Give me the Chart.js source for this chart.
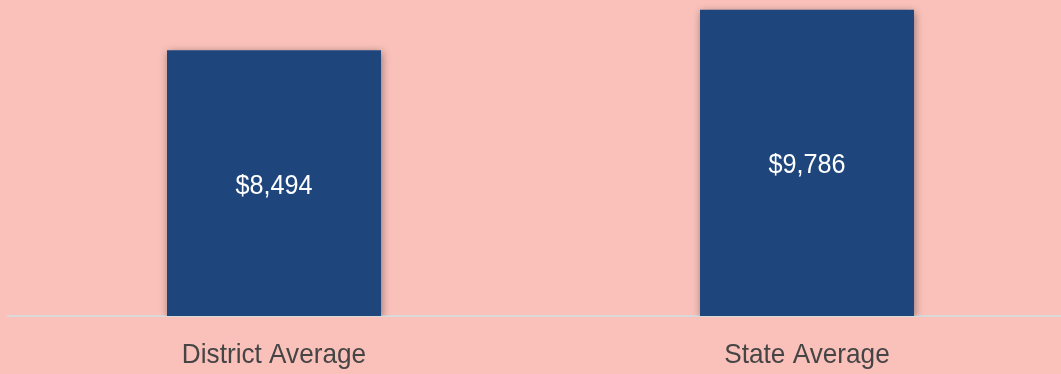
<!DOCTYPE html>
<html>
<head>
<meta charset="utf-8">
<script src="https://cdn.jsdelivr.net/npm/chart.js@4/dist/chart.umd.min.js"></script>
<style>
  html, body { margin:0; padding:0; background:#F9C1BA; overflow:hidden; }
  #wrap { width:1080px; height:374px; }
</style>
</head>
<body>
<div id="wrap"><canvas id="c" width="1080" height="374"></canvas></div>
<script>
const categories = ["District Average", "State Average"];
const values = [8494, 9786];
const valueLabels = ["$8,494", "$9,786"];

const FONT = "'Liberation Sans', Arial, sans-serif";

function drawCondensed(ctx, text, x, y, size, sx) {
  ctx.save();
  ctx.font = size + "px " + FONT;
  ctx.textAlign = 'center';
  ctx.textBaseline = 'alphabetic';
  ctx.translate(x, y);
  ctx.scale(sx, 1);
  ctx.fillText(text, 0, 0);
  ctx.restore();
}

const shadowPlugin = {
  id: 'barShadow',
  beforeDatasetDraw(chart) {
    const ctx = chart.ctx;
    ctx.save();
    ctx.shadowColor = 'rgba(0,0,0,0.4)';
    ctx.shadowBlur = 8;
    ctx.shadowOffsetX = 1;
    ctx.shadowOffsetY = 2;
  },
  afterDatasetDraw(chart) {
    chart.ctx.restore();
  }
};

const labelPlugin = {
  id: 'valueLabels',
  afterDraw(chart) {
    const ctx = chart.ctx;
    const meta = chart.getDatasetMeta(0);
    const xs = chart.scales.x;
    ctx.save();
    ctx.fillStyle = '#FFFFFF';
    meta.data.forEach((bar, i) => {
      const y = (bar.y + bar.base) / 2;
      drawCondensed(ctx, valueLabels[i], bar.x, y + 10.5, 28, 0.9);
    });
    ctx.fillStyle = '#454545';
    categories.forEach((c, i) => {
      drawCondensed(ctx, c, xs.getPixelForValue(i), xs.bottom - 11.5, 28, 0.935);
    });
    ctx.restore();
  }
};

new Chart(document.getElementById('c'), {
  type: 'bar',
  data: {
    labels: categories,
    datasets: [{
      data: values,
      backgroundColor: '#1F467C',
      borderWidth: 0,
      barPercentage: 0.4015,
      categoryPercentage: 1
    }]
  },
  options: {
    responsive: false,
    animation: false,
    events: [],
    layout: { padding: { left: 7.5, right: 6.5, top: 3, bottom: 0 } },
    plugins: { legend: { display: false }, tooltip: { enabled: false } },
    scales: {
      x: {
        z: 1,
        grid: { display: false, drawTicks: false },
        border: { display: true, color: '#D9D9D9', width: 2 },
        ticks: { display: false },
        afterFit(scale) { scale.height = 58; }
      },
      y: {
        display: false,
        min: 0,
        max: 10000
      }
    }
  },
  plugins: [shadowPlugin, labelPlugin]
});
</script>
</body>
</html>
